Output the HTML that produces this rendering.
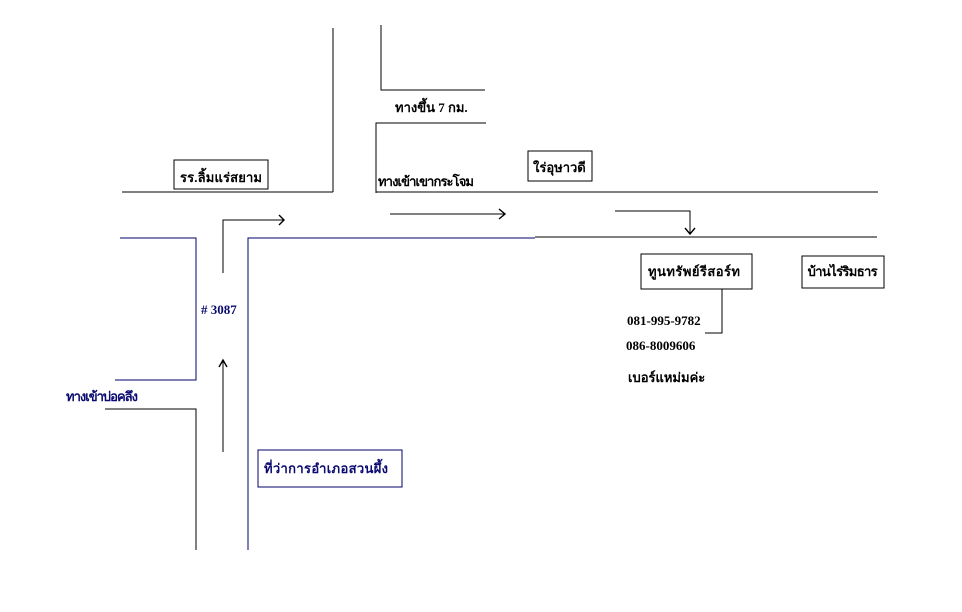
<!DOCTYPE html>
<html><head><meta charset="utf-8"><style>
body{margin:0;background:#fff;width:962px;height:612px;overflow:hidden}
svg{display:block}
text{font-family:"Liberation Serif","Noto Serif CJK SC",serif;font-weight:bold;font-size:13px;fill:#000}
.b{fill:#0a0a70}
</style></head><body>
<svg width="962" height="612" viewBox="0 0 962 612" stroke="#000" stroke-width="1.4" fill="none" shape-rendering="crispEdges">
<line x1="333" y1="28" x2="333" y2="192"/>
<polyline points="381,25 381,90 485,90"/>
<polyline points="486,123 376,123 376,193"/>
<line x1="122" y1="192" x2="333" y2="192"/>
<line x1="376" y1="192" x2="878" y2="192"/>
<rect x="174" y="160" width="94" height="29"/>
<rect x="528" y="151" width="64" height="30"/>
<polyline points="223,273 223,220 284,220"/>
<polyline points="279,215 284,220 279,225" shape-rendering="auto"/>
<line x1="390" y1="214" x2="505" y2="214"/>
<polyline points="499,209 505,214 499,219" shape-rendering="auto"/>
<polyline points="615,211 690,211 690,234"/>
<polyline points="685,228 690,234 695,228" shape-rendering="auto"/>
<g stroke="#00006a">
<polyline points="120,238 196,238 196,380 115,380"/>
<polyline points="248,550 248,238 535,238"/>
<rect x="258" y="450" width="144" height="37"/>
</g>
<line x1="535" y1="237" x2="877" y2="237"/>
<polyline points="105,409 196,409 196,550"/>
<line x1="223" y1="452" x2="223" y2="360"/>
<polyline points="219,367 223,360 227,367" shape-rendering="auto"/>
<rect x="641" y="254" width="111" height="35"/>
<polyline points="722,289 722,333 705,333"/>
<rect x="802" y="256" width="82" height="32"/>
<g stroke="none">
<text x="395" y="112" font-size="12">ทางขึ้น 7 กม.</text>
<text x="180" y="182" textLength="82">รร.ลิ้มแร่สยาม</text>
<text x="378" y="186" textLength="96">ทางเข้าเขากระโจม</text>
<text x="533" y="172" font-size="15">ใร่อุษาวดี</text>
<text x="201" y="314" class="b" font-size="11">#&#160;3087</text>
<text x="66" y="401" class="b" textLength="72">ทางเข้าบ่อคลึง</text>
<text x="264" y="473" class="b" font-size="14" textLength="124">ที่ว่าการอำเภอสวนผึ้ง</text>
<text x="648" y="276" font-size="14" textLength="92">ทูนทรัพย์รีสอร์ท</text>
<text x="807" y="276" textLength="70">บ้านไร่ริมธาร</text>
<text x="627" y="325" font-size="11">081-995-9782</text>
<text x="626" y="350" font-size="11">086-8009606</text>
<text x="628" y="382" font-size="14">เบอร์แหม่มค่ะ</text>
</g>
</svg>
</body></html>
